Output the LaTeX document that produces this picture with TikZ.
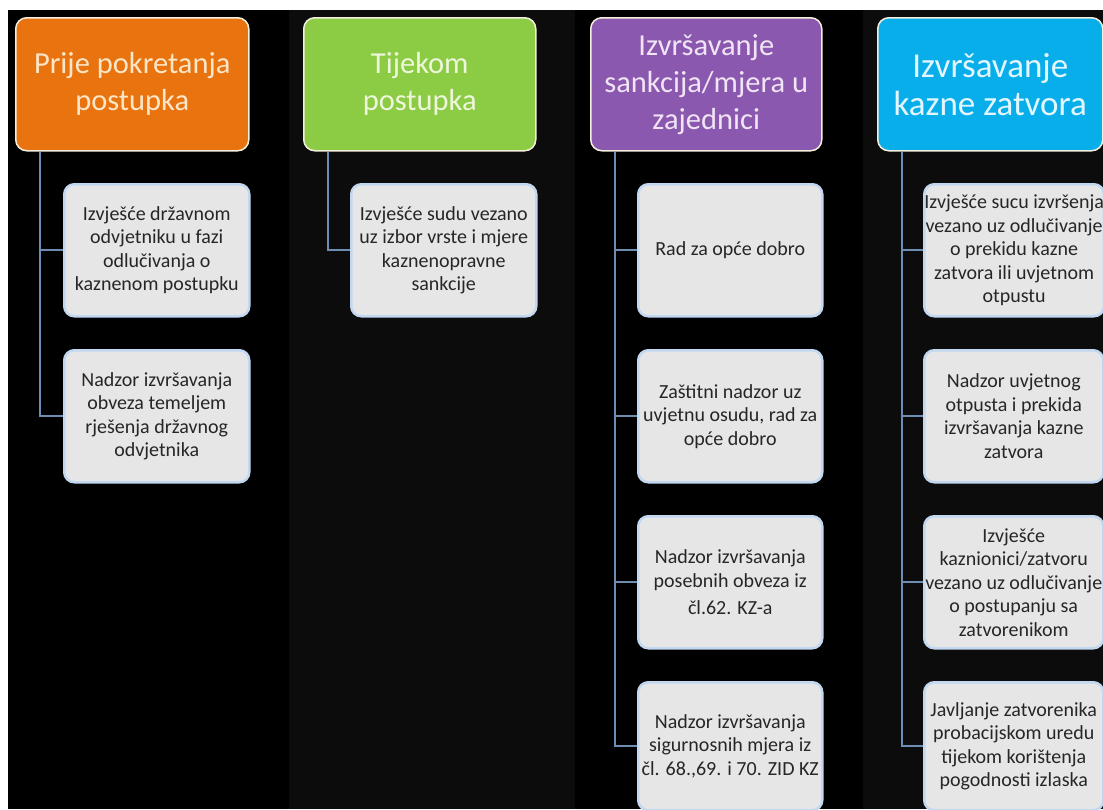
\documentclass[tikz,border=0pt]{standalone}
\usepackage{fontspec}
\setmainfont{Carlito}
\definecolor{bgblack}{HTML}{000000}
\definecolor{bgdark}{HTML}{0C0C0C}
\definecolor{horange}{HTML}{E8730F}
\definecolor{hgreen}{HTML}{8CCB44}
\definecolor{hpurple}{HTML}{8A58AE}
\definecolor{hblue}{HTML}{08AEEA}
\definecolor{torange}{HTML}{FCE6C8}
\definecolor{tgreen}{HTML}{EEF7DC}
\definecolor{tpurple}{HTML}{F0E4F5}
\definecolor{tblue}{HTML}{E4F6FD}
\definecolor{hborder}{HTML}{F4EEDC}
\definecolor{cfill}{HTML}{E6E6E6}
\definecolor{cborder}{HTML}{C2D8F0}
\definecolor{ctext}{HTML}{262626}
\definecolor{connc}{HTML}{6E8DB2}
\tikzset{
  header/.style={draw=hborder, line width=1.5pt, rounded corners=11pt, anchor=north west,
    minimum height=133pt, inner sep=0pt, align=center,
    font=\fontsize{30.5}{37}\selectfont},
  child/.style={fill=cfill, draw=cborder, line width=2.5pt, rounded corners=10pt, anchor=north west,
    minimum height=132pt, inner sep=0pt, align=center, text=ctext,
    font=\fontsize{20}{23.5}\selectfont},
  conn/.style={draw=connc, line width=1.8pt}
}
\begin{document}
\begin{tikzpicture}[x=1pt,y=-1pt]
\useasboundingbox (0,0) rectangle (1103,809);
\fill[bgblack] (8,10) rectangle (290,809);
\fill[bgdark] (289,10) rectangle (576,809);
\fill[bgblack] (575,10) rectangle (864,809);
\fill[bgdark] (863,10) rectangle (1103,809);
% headers
\node[header, fill=horange, text=torange, minimum width=233pt] (h1) at (15,17) {Prije pokretanja\\postupka};
\node[header, fill=hgreen, text=tgreen, minimum width=232pt] (h2) at (303,17) {Tijekom\\postupka};
\node[header, fill=hpurple, text=tpurple, minimum width=231pt] (h3) at (590,17) {Izvršavanje\\sankcija/mjera u\\zajednici};
\node[header, fill=hblue, text=tblue, minimum width=225pt, font=\fontsize{35}{38}\selectfont] (h4) at (877,17) {Izvršavanje\\kazne zatvora};
% column 1
\node[child, minimum width=185pt] (c11) at (63,183) {Izvješće državnom\\odvjetniku u fazi\\odlučivanja o\\kaznenom postupku};
\node[child, minimum width=185pt] (c12) at (63,349) {Nadzor izvršavanja\\obveza temeljem\\rješenja državnog\\odvjetnika};
% column 2
\node[child, minimum width=185pt] (c21) at (350,183) {Izvješće sudu vezano\\uz izbor vrste i mjere\\kaznenopravne\\sankcije};
% column 3
\node[child, minimum width=184pt] (c31) at (637,183) {Rad za opće dobro};
\node[child, minimum width=184pt] (c32) at (637,349) {Zaštitni nadzor uz\\uvjetnu osudu, rad za\\opće dobro};
\node[child, minimum width=184pt] (c33) at (637,515) {Nadzor izvršavanja\\posebnih obveza iz\\[4pt]čl.62. KZ-a};
\node[child, minimum width=184pt, minimum height=128pt] (c34) at (637,681) {Nadzor izvršavanja\\sigurnosnih mjera iz\\čl. 68.,69. i 70. ZID KZ};
% column 4
\node[child, minimum width=179pt] (c41) at (923,183) {Izvješće sucu izvršenja\\vezano uz odlučivanje\\o prekidu kazne\\zatvora ili uvjetnom\\otpustu};
\node[child, minimum width=179pt] (c42) at (923,349) {Nadzor uvjetnog\\otpusta i prekida\\izvršavanja kazne\\zatvora};
\node[child, minimum width=179pt] (c43) at (923,515) {Izvješće\\kaznionici/zatvoru\\vezano uz odlučivanje\\o postupanju sa\\zatvorenikom};
\node[child, minimum width=179pt, minimum height=128pt] (c44) at (923,681) {Javljanje zatvorenika\\probacijskom uredu\\tijekom korištenja\\pogodnosti izlaska};
% connectors
\draw[conn] ([xshift=25pt]h1.south west) |- (c12.west);
\draw[conn] ([xshift=25pt]h1.south west) |- (c11.west);
\draw[conn] ([xshift=25pt]h2.south west) |- (c21.west);
\draw[conn] ([xshift=25pt]h3.south west) |- (c34.west);
\draw[conn] ([xshift=25pt]h3.south west) |- (c31.west);
\draw[conn] ([xshift=25pt]h3.south west) |- (c32.west);
\draw[conn] ([xshift=25pt]h3.south west) |- (c33.west);
\draw[conn] ([xshift=25pt]h4.south west) |- (c44.west);
\draw[conn] ([xshift=25pt]h4.south west) |- (c41.west);
\draw[conn] ([xshift=25pt]h4.south west) |- (c42.west);
\draw[conn] ([xshift=25pt]h4.south west) |- (c43.west);
\end{tikzpicture}
\end{document}
